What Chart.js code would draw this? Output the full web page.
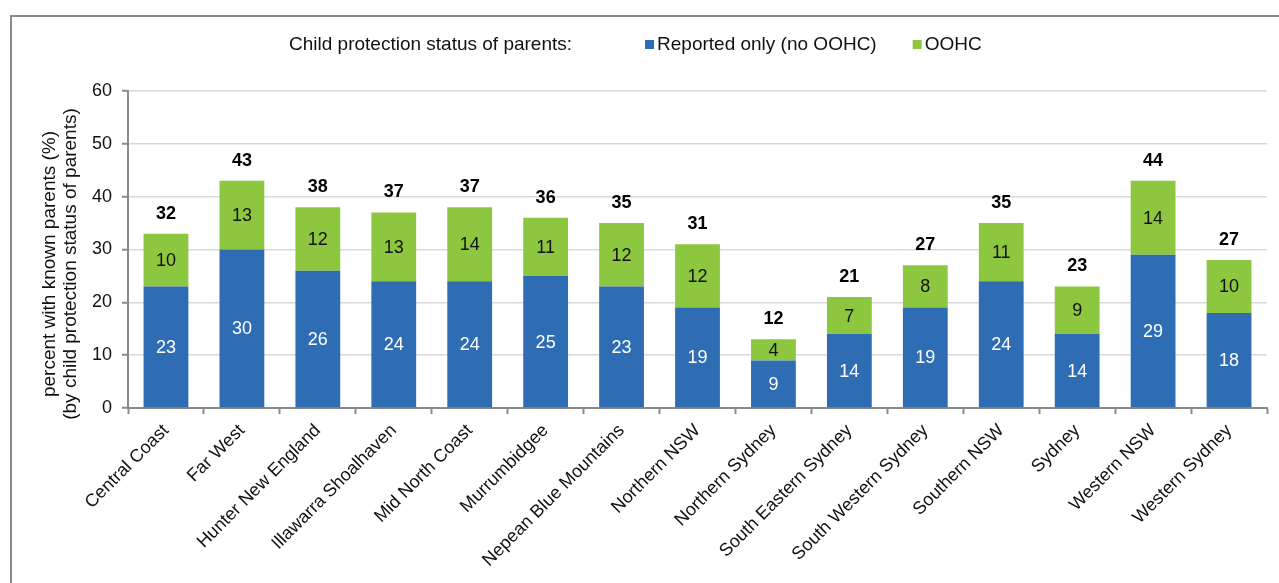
<!DOCTYPE html>
<html>
<head>
<meta charset="utf-8">
<script src="https://cdn.jsdelivr.net/npm/chart.js@4.4.0/dist/chart.umd.min.js"></script>
<style>
  html, body { margin: 0; padding: 0; background: #fff; overflow: hidden; }
  #wrap { position: relative; width: 1279px; height: 583px; }
  #frame { position: absolute; left: 10px; top: 15px; width: 1400px; height: 700px;
           border: 2px solid #8a8a8a; pointer-events: none; }
</style>
</head>
<body>
<div id="wrap">
  <canvas id="mycanvas" width="1279" height="583"></canvas>
  <div id="frame"></div>
</div>
<script>
var Regions = ['Central Coast', 'Far West', 'Hunter New England', 'Illawarra Shoalhaven',
  'Mid North Coast', 'Murrumbidgee', 'Nepean Blue Mountains', 'Northern NSW',
  'Northern Sydney', 'South Eastern Sydney', 'South Western Sydney', 'Southern NSW',
  'Sydney', 'Western NSW', 'Western Sydney'];
var ReportedOnly = [23, 30, 26, 24, 24, 25, 23, 19, 9, 14, 19, 24, 14, 29, 18];
var Oohc = [10, 13, 12, 13, 14, 11, 12, 12, 4, 7, 8, 11, 9, 14, 10];
var Totals = [32, 43, 38, 37, 37, 36, 35, 31, 12, 21, 27, 35, 23, 44, 27];
var YTicks = [0, 10, 20, 30, 40, 50, 60];

var legendTitle = 'Child protection status of parents:';
var yTitle = ['percent with known parents (%)', '(by child protection status of parents)'];
var FONT = '"Liberation Sans", Arial, sans-serif';

// draws the inline legend, the y title and the value labels on the bars
var barLabels = {
  id: 'barLabels',
  afterDatasetsDraw: function(chart) {
    var ctx = chart.ctx;
    ctx.save();
    ctx.textAlign = 'center';
    ctx.textBaseline = 'middle';
    chart.data.datasets.forEach(function(ds, di) {
      var meta = chart.getDatasetMeta(di);
      ctx.font = '18px ' + FONT;
      ctx.fillStyle = di === 0 ? '#ffffff' : '#111111';
      meta.data.forEach(function(bar, i) {
        ctx.fillText(ds.data[i], bar.x, (bar.y + bar.base) / 2 + 1);
      });
    });
    var top = chart.getDatasetMeta(chart.data.datasets.length - 1);
    ctx.font = 'bold 18px ' + FONT;
    ctx.fillStyle = '#000000';
    top.data.forEach(function(bar, i) {
      ctx.fillText(Totals[i], bar.x, bar.y - 20);
    });
    ctx.restore();
  },
  afterDraw: function(chart) {
    var ctx = chart.ctx;
    ctx.save();
    ctx.font = '19px ' + FONT;
    ctx.textBaseline = 'middle';
    ctx.textAlign = 'left';
    ctx.fillStyle = '#111111';
    var x = 289, y = 45;
    ctx.fillText(legendTitle, x, y);
    x += ctx.measureText(legendTitle).width + 73;
    chart.data.datasets.forEach(function(ds) {
      ctx.fillStyle = ds.backgroundColor;
      ctx.fillRect(x, y - 5, 9, 9);
      ctx.fillStyle = '#111111';
      ctx.fillText(ds.label, x + 12, y);
      x += 12 + ctx.measureText(ds.label).width + 36;
    });
    ctx.restore();

    ctx.save();
    ctx.translate(0, 264);
    ctx.rotate(-Math.PI / 2);
    ctx.font = '19px ' + FONT;
    ctx.textAlign = 'center';
    ctx.textBaseline = 'middle';
    ctx.fillStyle = '#111111';
    ctx.fillText(yTitle[0], 0, 50);
    ctx.fillText(yTitle[1], 0, 71);
    ctx.restore();
  }
};

var ctx = document.getElementById('mycanvas');

var barGraph = new Chart(ctx, {
  type: 'bar',
  data: {
    labels: Regions,
    datasets: [
      { label: 'Reported only (no OOHC)', data: ReportedOnly, backgroundColor: '#2e6db4' },
      { label: 'OOHC', data: Oohc, backgroundColor: '#8dc63f' }
    ]
  },
  options: {
    responsive: false,
    animation: false,
    events: [],
    layout: { padding: { left: 40, right: 12, top: 91, bottom: 0 } },
    datasets: { bar: { barPercentage: 0.59, categoryPercentage: 1.0 } },
    plugins: {
      legend: { display: false },
      tooltip: { enabled: false }
    },
    scales: {
      x: {
        stacked: true,
        afterFit: function(scale) { scale.height = 175; },
        grid: { drawOnChartArea: false, drawTicks: true, tickLength: 6, tickColor: '#8a8a8a', tickWidth: 2 },
        border: { color: '#8a8a8a', width: 2 },
        ticks: {
          maxRotation: 45, minRotation: 45, autoSkip: false, padding: 6,
          color: '#111111', font: { family: FONT, size: 18 }
        }
      },
      y: {
        stacked: true,
        min: 0, max: 60,
        afterFit: function(scale) { scale.width = 88; },
        afterBuildTicks: function(scale) {
          scale.ticks = YTicks.map(function(v) { return { value: v }; });
        },
        grid: { color: '#d9d9d9', lineWidth: 1.5, tickLength: 6, tickColor: '#8a8a8a', tickWidth: 2 },
        border: { color: '#8a8a8a', width: 2 },
        ticks: { padding: 10, color: '#111111', font: { family: FONT, size: 18 } },
        title: { display: false }
      }
    }
  },
  plugins: [barLabels]
});
</script>
</body>
</html>
